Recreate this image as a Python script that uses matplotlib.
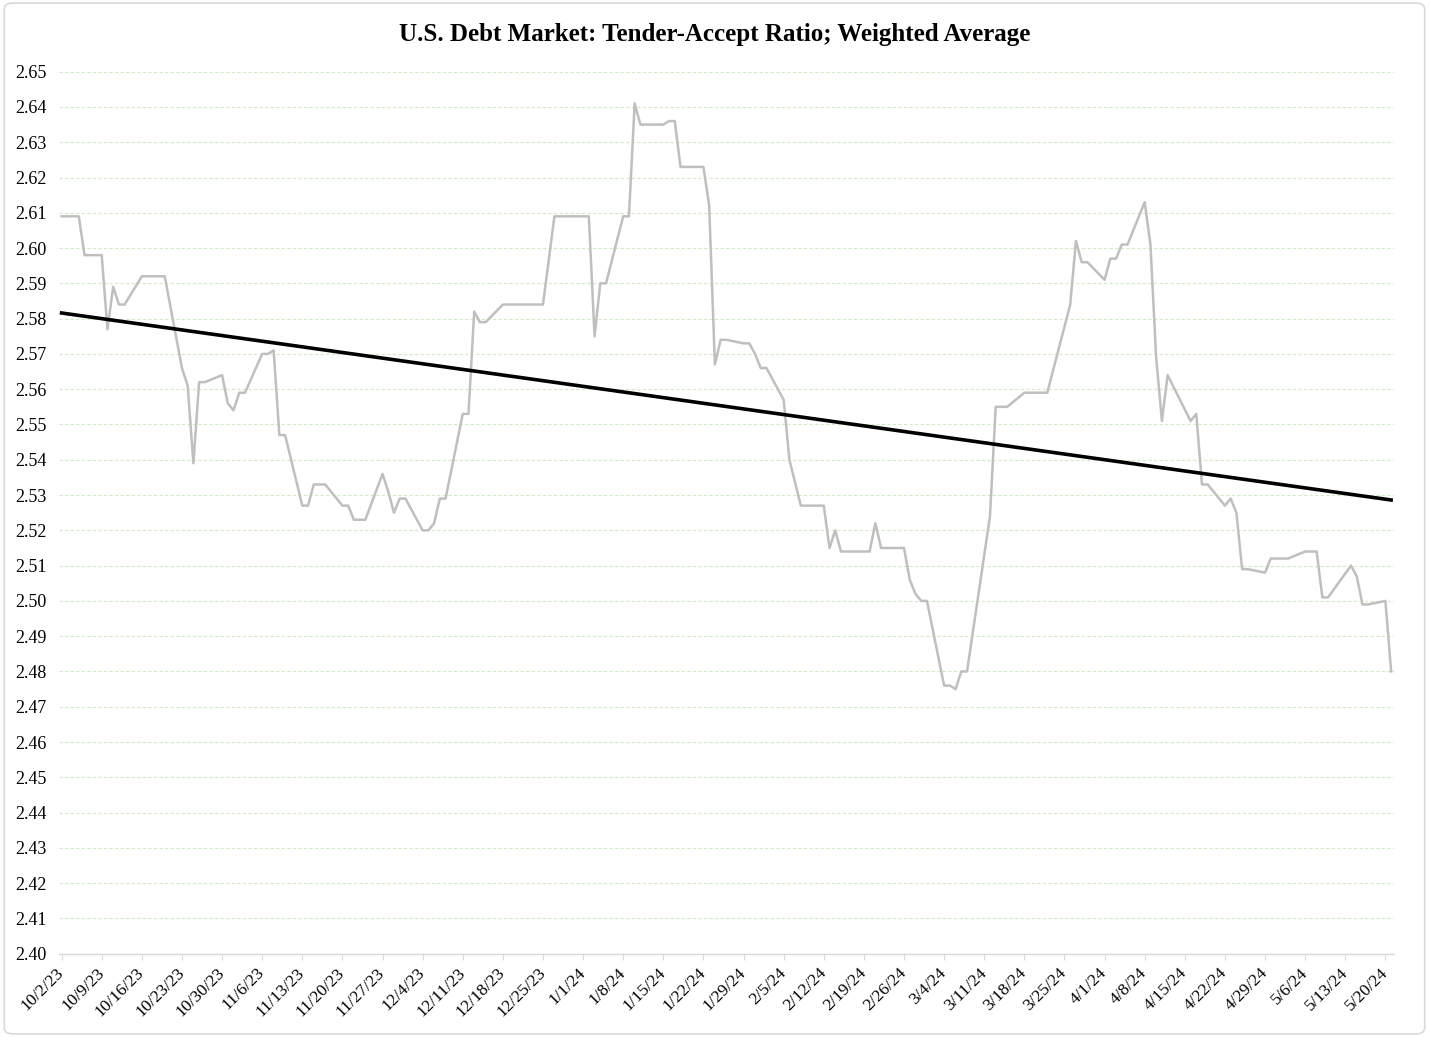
"""Tender-accept ratio, weighted average, with linear trend (Excel-style)."""
from datetime import datetime, timedelta

import matplotlib

matplotlib.use("Agg")
import matplotlib.dates as mdates
import matplotlib.pyplot as plt
from matplotlib.patches import FancyBboxPatch
from matplotlib.ticker import FixedLocator, FuncFormatter, MultipleLocator

TITLE = "U.S. Debt Market: Tender-Accept Ratio; Weighted Average"

# vertices of the weighted-average line (flat runs given by their ends)
dates = [
    "10/2/23", "10/5/23", "10/6/23", "10/9/23", "10/10/23", "10/11/23", "10/12/23", "10/13/23",
    "10/16/23", "10/20/23", "10/23/23", "10/24/23", "10/25/23", "10/26/23", "10/27/23",
    "10/30/23", "10/31/23", "11/1/23", "11/2/23", "11/3/23", "11/6/23", "11/7/23", "11/8/23",
    "11/9/23", "11/10/23", "11/13/23", "11/14/23", "11/15/23", "11/17/23", "11/20/23",
    "11/21/23", "11/22/23", "11/24/23", "11/27/23", "11/28/23", "11/29/23", "11/30/23",
    "12/1/23", "12/4/23", "12/5/23", "12/6/23", "12/7/23", "12/8/23", "12/11/23", "12/12/23",
    "12/13/23", "12/14/23", "12/15/23", "12/18/23", "12/25/23", "12/27/23", "1/2/24",
    "1/3/24", "1/4/24", "1/5/24", "1/8/24", "1/9/24", "1/10/24", "1/11/24", "1/15/24",
    "1/16/24", "1/17/24", "1/18/24", "1/22/24", "1/23/24", "1/24/24", "1/25/24", "1/26/24",
    "1/29/24", "1/30/24", "1/31/24", "2/1/24", "2/2/24", "2/5/24", "2/6/24", "2/8/24",
    "2/12/24", "2/13/24", "2/14/24", "2/15/24", "2/20/24", "2/21/24", "2/22/24", "2/26/24",
    "2/27/24", "2/28/24", "2/29/24", "3/1/24", "3/4/24", "3/5/24", "3/6/24", "3/7/24",
    "3/8/24", "3/12/24", "3/13/24", "3/15/24", "3/18/24", "3/22/24", "3/26/24", "3/27/24",
    "3/28/24", "3/29/24", "4/1/24", "4/2/24", "4/3/24", "4/4/24", "4/5/24", "4/8/24",
    "4/9/24", "4/10/24", "4/11/24", "4/12/24", "4/16/24", "4/17/24", "4/18/24", "4/19/24",
    "4/22/24", "4/23/24", "4/24/24", "4/25/24", "4/26/24", "4/29/24", "4/30/24", "5/3/24",
    "5/6/24", "5/8/24", "5/9/24", "5/10/24", "5/14/24", "5/15/24", "5/16/24", "5/17/24",
    "5/20/24", "5/21/24",
]
ratio = [
    2.609, 2.609, 2.598, 2.598, 2.577, 2.589, 2.584, 2.584,
    2.592, 2.592, 2.566, 2.561, 2.539, 2.562, 2.562,
    2.564, 2.556, 2.554, 2.559, 2.559, 2.570, 2.570, 2.571,
    2.547, 2.547, 2.527, 2.527, 2.533, 2.533, 2.527,
    2.527, 2.523, 2.523, 2.536, 2.531, 2.525, 2.529,
    2.529, 2.520, 2.520, 2.522, 2.529, 2.529, 2.553, 2.553,
    2.582, 2.579, 2.579, 2.584, 2.584, 2.609, 2.609,
    2.575, 2.590, 2.590, 2.609, 2.609, 2.641, 2.635, 2.635,
    2.636, 2.636, 2.623, 2.623, 2.612, 2.567, 2.574, 2.574,
    2.573, 2.573, 2.570, 2.566, 2.566, 2.557, 2.540, 2.527,
    2.527, 2.515, 2.520, 2.514, 2.514, 2.522, 2.515, 2.515,
    2.506, 2.502, 2.500, 2.500, 2.476, 2.476, 2.475, 2.480,
    2.480, 2.524, 2.555, 2.555, 2.559, 2.559, 2.584, 2.602,
    2.596, 2.596, 2.591, 2.597, 2.597, 2.601, 2.601, 2.613,
    2.601, 2.569, 2.551, 2.564, 2.551, 2.553, 2.533, 2.533,
    2.527, 2.529, 2.525, 2.509, 2.509, 2.508, 2.512, 2.512,
    2.514, 2.514, 2.501, 2.501, 2.510, 2.507, 2.499, 2.499,
    2.500, 2.480,
]

# linear trend line, read at first and last date
trend_start = 2.5816
trend_end = 2.5286

first_tick = "10/2/23"
n_weeks = 34
y_min, y_max, y_step = 2.40, 2.65, 0.01

SERIF = ["Liberation Serif", "DejaVu Serif"]
plt.rcParams["font.family"] = SERIF


def _d(s: str) -> datetime:
    return datetime.strptime(s, "%m/%d/%y")


def main() -> None:
    x = [_d(s) for s in dates]
    fig = plt.figure(figsize=(14.29, 10.37), dpi=100)
    fig.patches.append(
        FancyBboxPatch((0.003, 0.003), 0.994, 0.994, boxstyle="round,pad=0,rounding_size=0.006",
                       transform=fig.transFigure, facecolor="white", edgecolor="#d9d9d9",
                       linewidth=1.2, zorder=-1)
    )
    ax = fig.add_axes([0.0413, 0.0803, 0.9342, 0.8506])
    ax.set_facecolor("none")

    ax.plot(x, ratio, color="#bfbfbf", linewidth=1.8, zorder=3)
    ax.plot([x[0], x[-1]], [trend_start, trend_end], color="black", linewidth=2.6, zorder=4)

    ax.set_ylim(y_min, y_max)
    ax.yaxis.set_major_locator(MultipleLocator(y_step))
    ax.yaxis.set_major_formatter(FuncFormatter(lambda v, _: f"{v:.2f}"))
    ax.grid(axis="y", color="#d2ebc7", linestyle=(0, (3, 2)), linewidth=0.8, zorder=0)

    t0 = _d(first_tick)
    ticks = [t0 + timedelta(days=7 * i) for i in range(n_weeks)]
    ax.set_xlim(mdates.date2num(x[0]) - 0.45, mdates.date2num(x[-1]) + 0.5)
    ax.xaxis.set_major_locator(FixedLocator(mdates.date2num(ticks)))
    ax.set_xticklabels([f"{t.month}/{t.day}/{t.strftime('%y')}" for t in ticks])
    for lbl in ax.get_xticklabels():
        lbl.set_rotation(45)
        lbl.set_ha("right")
        lbl.set_va("center")
        lbl.set_rotation_mode("anchor")

    for side in ("top", "right", "left"):
        ax.spines[side].set_visible(False)
    ax.spines["bottom"].set_color("#d9d9d9")
    ax.spines["bottom"].set_linewidth(1.0)
    ax.tick_params(axis="x", colors="#d9d9d9", labelcolor="black", length=4, width=0.8,
                   labelsize=12.5, pad=8)
    ax.tick_params(axis="y", length=0, labelsize=13, pad=9)

    fig.text(0.5, 0.967, TITLE, ha="center", va="center", fontsize=18, fontweight="bold")
    fig.savefig("out.png", dpi=100)
    plt.close(fig)


if __name__ == "__main__":
    main()
